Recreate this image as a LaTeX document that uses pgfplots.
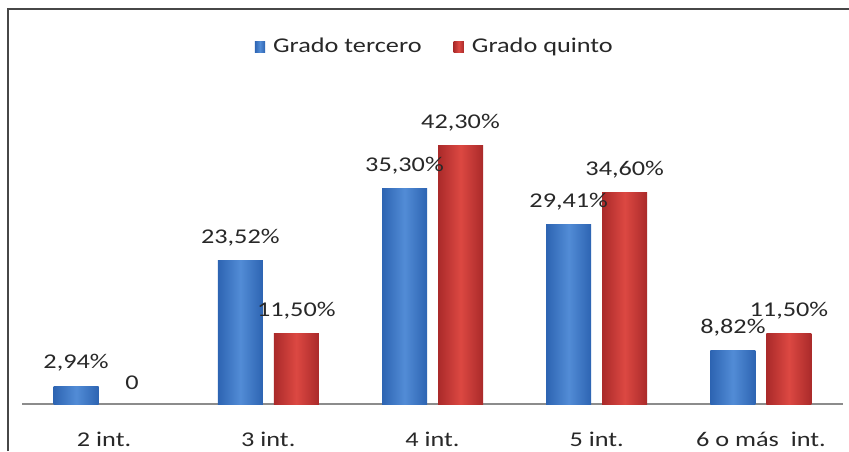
\documentclass[border=0pt]{standalone}
\usepackage{pgfplots}
\pgfplotsset{compat=1.18}
\usepackage{fontspec}
\setmainfont{Carlito}[FakeStretch=1.25]
\definecolor{blueE}{RGB}{45,100,178}
\definecolor{blueM}{RGB}{82,140,214}
\definecolor{redE}{RGB}{170,42,42}
\definecolor{redM}{RGB}{220,72,66}
\definecolor{txt}{RGB}{40,40,40}
\begin{document}
\fontsize{10.5}{12}\selectfont
\begin{tikzpicture}
\useasboundingbox (0,0) rectangle (424.5pt,225.5pt);
\fill[white] (0,0) rectangle (424.5pt,225.5pt);
\draw[line width=1pt, color=black!72] (3.75pt,0) -- (3.75pt,220.75pt) -- (424.5pt,220.75pt);
\begin{axis}[
  at={(11pt,23.5pt)}, anchor=south west,
  scale only axis, width=410.5pt, height=152.5pt,
  xmin=-0.5, xmax=4.5, ymin=0, ymax=50,
  axis y line=none,
  axis x line*=bottom,
  x axis line style={draw=black!45, line width=0.6pt, -},
  xtick={0,1,2,3,4},
  xticklabels={2 int., 3 int., 4 int., 5 int., 6 o más\ \ int.},
  xtick style={draw=none},
  x tick label style={font=\fontsize{10.5}{12}\selectfont\color{txt}, yshift=-6pt},
  ybar, bar width=22.5pt,
  point meta=explicit symbolic,
  nodes near coords,
  every node near coord/.append style={font=\fontsize{10.5}{12}\selectfont\color{txt}, anchor=south, yshift=3.5pt},
  legend style={draw=none, fill=none, at={(0.504,1.17)}, anchor=center, legend columns=2, font=\fontsize{10.5}{12}\selectfont\color{txt},
    /tikz/every odd column/.append style={column sep=2pt},
    /tikz/every even column/.append style={column sep=14pt}},
  legend image code/.code={\fill[#1] (0pt,-2.6pt) rectangle (5.2pt,2.6pt);},
  blu/.style={draw=none, left color=blueE, right color=blueE, middle color=blueM, bar shift=-14pt},
  rd/.style={draw=none, left color=redE, right color=redE, middle color=redM, bar shift=14pt},
  clip=false,
]
\addplot[blu] coordinates {(0,2.94) [2,94\%]};
\addlegendentry{Grado tercero}
\addplot[blu, forget plot] coordinates {(1,23.52) [23,52\%]};
\addplot[blu, forget plot] coordinates {(2,35.30) [35,30\%]};
\addplot[blu, forget plot] coordinates {(3,29.41) [29,41\%]};
\addplot[blu, forget plot] coordinates {(4,8.82) [8,82\%]};
\addplot[rd] coordinates {(0,0) [0]};
\addlegendentry{Grado quinto}
\addplot[rd, forget plot] coordinates {(1,11.50) [11,50\%]};
\addplot[rd, forget plot] coordinates {(2,42.30) [42,30\%]};
\addplot[rd, forget plot] coordinates {(3,34.60) [34,60\%]};
\addplot[rd, forget plot] coordinates {(4,11.50) [11,50\%]};
\end{axis}
\end{tikzpicture}
\end{document}
